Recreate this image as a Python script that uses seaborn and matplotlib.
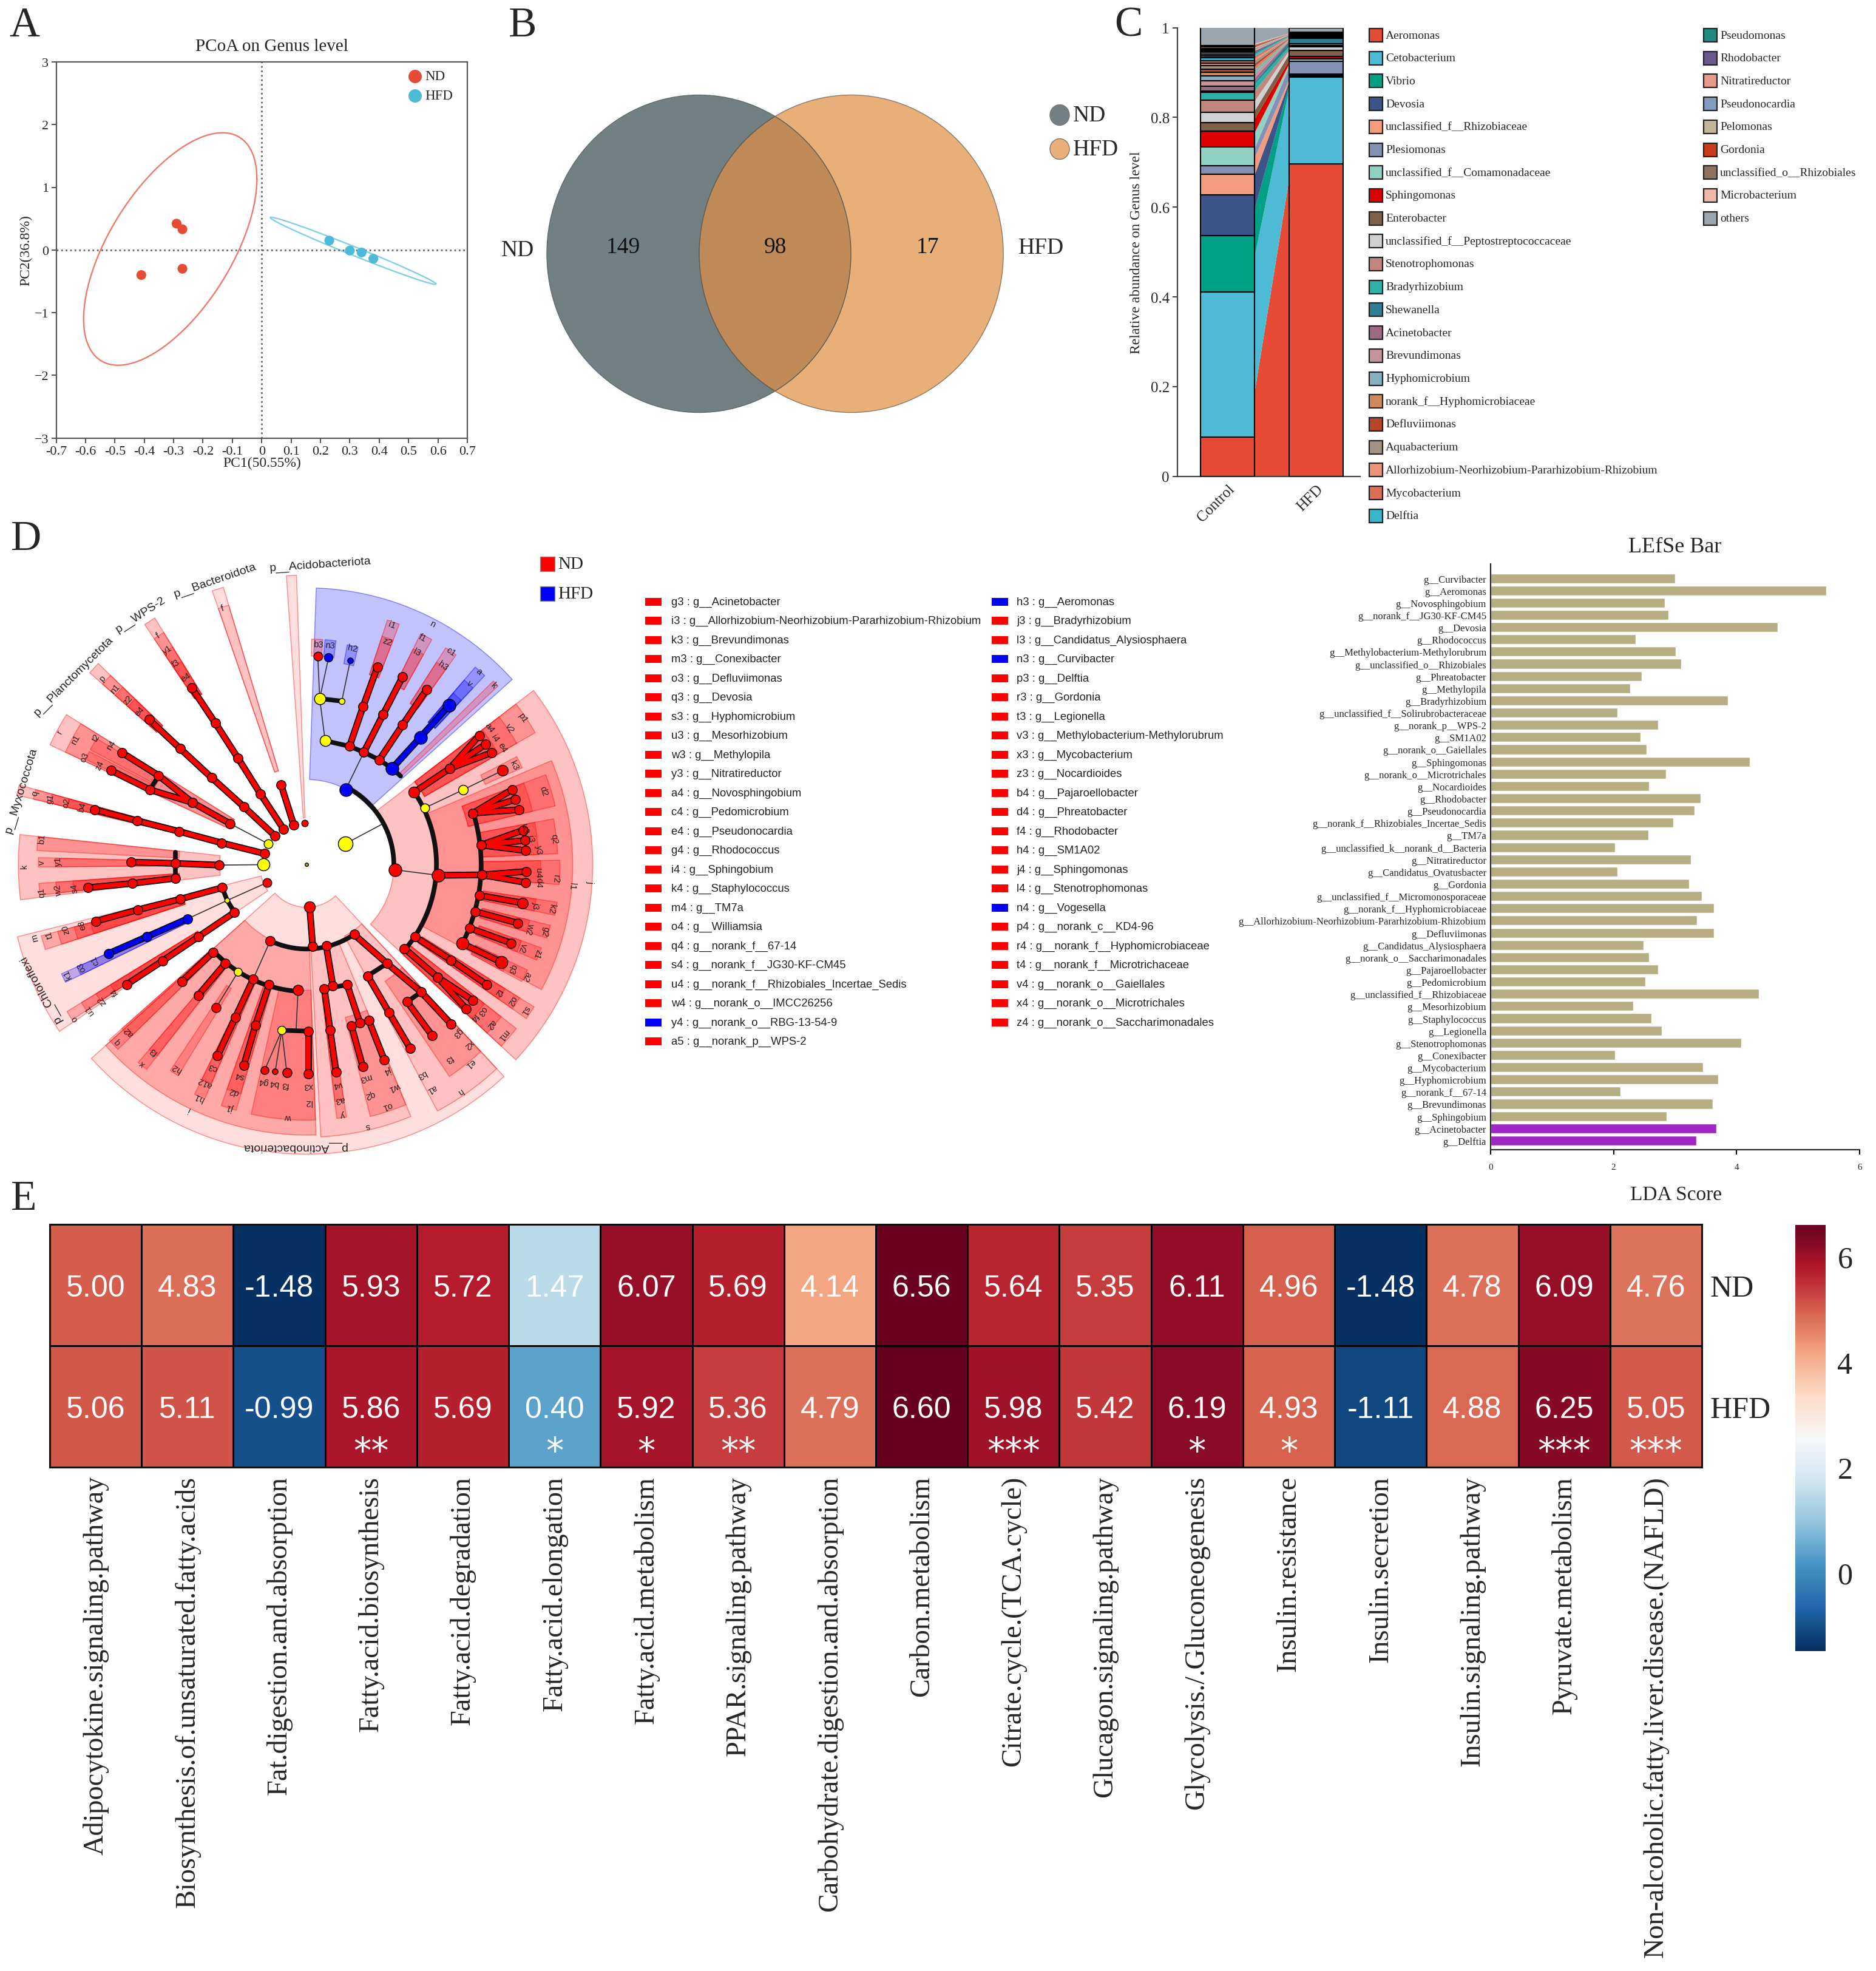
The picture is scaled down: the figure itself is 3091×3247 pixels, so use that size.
import numpy as np
import pandas as pd
import matplotlib
matplotlib.use("Agg")
import matplotlib.pyplot as plt
from matplotlib.patches import Ellipse, Rectangle, Polygon
import seaborn as sns

sns.set_style("ticks")
plt.rcParams['font.family'] = ['Liberation Serif', 'DejaVu Serif']

W, H = 3091, 3248
RED = '#E64B35'
CYAN = '#4DBBD5'

# ---------- panel A
pc1_ticks = [-0.7, -0.6, -0.5, -0.4, -0.3, -0.2, -0.1, 0, 0.1, 0.2, 0.3, 0.4, 0.5, 0.6, 0.7]
pc2_ticks = [-3, -2, -1, 0, 1, 2, 3]
pcoa_group = ['ND', 'ND', 'ND', 'ND', 'HFD', 'HFD', 'HFD', 'HFD']
pcoa_x = [-0.29, -0.27, -0.41, -0.27, 0.23, 0.30, 0.34, 0.38]
pcoa_y = [0.42, 0.33, -0.40, -0.30, 0.15, -0.01, -0.04, -0.14]
# centre x, centre y, x half range, y half range, phase in degrees
ell_nd = [-0.3115, 0.015, 0.295, 1.855, 53]
ell_hfd = [0.311, -0.013, 0.282, 0.535, 172]

# ---------- panel B
venn_counts = [149, 98, 17]
venn_names = ['ND', 'HFD']

# ---------- panel C
genus = ['Aeromonas', 'Cetobacterium', 'Vibrio', 'Devosia', 'unclassified_f__Rhizobiaceae', 'Plesiomonas',
         'unclassified_f__Comamonadaceae', 'Sphingomonas', 'Enterobacter', 'unclassified_f__Peptostreptococcaceae',
         'Stenotrophomonas', 'Bradyrhizobium', 'Shewanella', 'Acinetobacter', 'Brevundimonas', 'Hyphomicrobium',
         'norank_f__Hyphomicrobiaceae', 'Defluviimonas', 'Aquabacterium',
         'Allorhizobium-Neorhizobium-Pararhizobium-Rhizobium', 'Mycobacterium', 'Delftia', 'Pseudomonas',
         'Rhodobacter', 'Nitratireductor', 'Pseudonocardia', 'Pelomonas', 'Gordonia', 'unclassified_o__Rhizobiales',
         'Microbacterium', 'others']
genus_colors = ['#E64B35', '#4DBBD5', '#00A087', '#3C5488', '#F39B7F', '#8491B4', '#91D1C2', '#DC0000', '#7E6148',
                '#D0D0D0', '#C0877F', '#2CB0A8', '#2E7F94', '#9A6B85', '#C4939C', '#86AFBF', '#D0885F', '#B5462A',
                '#A09383', '#EE927A', '#D96F57', '#39B5CC', '#1E8A80', '#6A5A8C', '#E79A8A', '#829DBB', '#C3B79A',
                '#CC3A1C', '#8C7460', '#EDB8AE', '#9AA5AD']
control_abund = [0.087, 0.324, 0.126, 0.091, 0.045, 0.020, 0.041, 0.035, 0.019, 0.024, 0.027, 0.017, 0.003, 0.011,
                 0.012, 0.010, 0.009, 0.007, 0.008, 0.005, 0.006, 0.006, 0.004, 0.004, 0.004, 0.003, 0.003, 0.003,
                 0.003, 0.003, 0.041]
hfd_abund = [0.696, 0.194, 0.002, 0.002, 0.003, 0.028, 0.005, 0.006, 0.014, 0.007, 0.003, 0.004, 0.012, 0.001,
             0.001, 0.001, 0.001, 0.001, 0.001, 0.001, 0.001, 0.001, 0.001, 0.0005, 0.0005, 0.0005, 0.0005, 0.0005,
             0.0005, 0.0005, 0.0105]

# ---------- panel D legend
clade_left = [('g3 : g__Acinetobacter', 'r'), ('i3 : g__Allorhizobium-Neorhizobium-Pararhizobium-Rhizobium', 'r'),
              ('k3 : g__Brevundimonas', 'r'), ('m3 : g__Conexibacter', 'r'), ('o3 : g__Defluviimonas', 'r'),
              ('q3 : g__Devosia', 'r'), ('s3 : g__Hyphomicrobium', 'r'), ('u3 : g__Mesorhizobium', 'r'),
              ('w3 : g__Methylopila', 'r'), ('y3 : g__Nitratireductor', 'r'), ('a4 : g__Novosphingobium', 'r'),
              ('c4 : g__Pedomicrobium', 'r'), ('e4 : g__Pseudonocardia', 'r'), ('g4 : g__Rhodococcus', 'r'),
              ('i4 : g__Sphingobium', 'r'), ('k4 : g__Staphylococcus', 'r'), ('m4 : g__TM7a', 'r'),
              ('o4 : g__Williamsia', 'r'), ('q4 : g__norank_f__67-14', 'r'), ('s4 : g__norank_f__JG30-KF-CM45', 'r'),
              ('u4 : g__norank_f__Rhizobiales_Incertae_Sedis', 'r'), ('w4 : g__norank_o__IMCC26256', 'r'),
              ('y4 : g__norank_o__RBG-13-54-9', 'b'), ('a5 : g__norank_p__WPS-2', 'r')]
clade_right = [('h3 : g__Aeromonas', 'b'), ('j3 : g__Bradyrhizobium', 'r'), ('l3 : g__Candidatus_Alysiosphaera', 'r'),
               ('n3 : g__Curvibacter', 'b'), ('p3 : g__Delftia', 'r'), ('r3 : g__Gordonia', 'r'),
               ('t3 : g__Legionella', 'r'), ('v3 : g__Methylobacterium-Methylorubrum', 'r'),
               ('x3 : g__Mycobacterium', 'r'), ('z3 : g__Nocardioides', 'r'), ('b4 : g__Pajaroellobacter', 'r'),
               ('d4 : g__Phreatobacter', 'r'), ('f4 : g__Rhodobacter', 'r'), ('h4 : g__SM1A02', 'r'),
               ('j4 : g__Sphingomonas', 'r'), ('l4 : g__Stenotrophomonas', 'r'), ('n4 : g__Vogesella', 'b'),
               ('p4 : g__norank_c__KD4-96', 'r'), ('r4 : g__norank_f__Hyphomicrobiaceae', 'r'),
               ('t4 : g__norank_f__Microtrichaceae', 'r'), ('v4 : g__norank_o__Gaiellales', 'r'),
               ('x4 : g__norank_o__Microtrichales', 'r'), ('z4 : g__norank_o__Saccharimonadales', 'r')]

# ---------- panel D cladogram, tree units
# angle from, angle to, radius from, outer radii (one shade per radius), colour (capital = stronger)
sectors = [
    (42, 88, 200, (650,), 'B'), (68.9, 71.7, 470, (605, 565), 'R'), (60.9, 63.7, 470, (605, 565), 'R'),
    (54.5, 57.3, 450, (605, 565), 'R'), (46.7, 49.5, 440, (610, 570, 530), 'B'),
    (43, 44.5, 305, (615,), 'R'), (85.9, 88.7, 490, (530,), 'R'), (82.5, 85.3, 490, (530,), 'B'),
    (76.7, 79.5, 480, (525,), 'B'),
    (-43, 37.5, 205, (672,), 'R'), (-28, 23, 310, (625,), 'R'), (30, 37.5, 320, (620, 570, 520), 'R'),
    (24.2, 27.2, 460, (555,), 'R'), (13.3, 20.6, 390, (600, 545), 'R'), (2.5, 10.5, 410, (590, 545), 'R'),
    (-4.5, 1, 415, (595, 550), 'R'), (-11.5, -8.5, 420, (595, 545), 'R'), (-17, -14, 425, (590, 540), 'R'),
    (-22.5, -19.5, 430, (585, 535), 'R'), (-28.5, -25.5, 440, (575, 525), 'R'), (-35, -32, 320, (630, 590, 550), 'R'),
    (-43, -38, 310, (625, 580, 530), 'R'),
    (92, 94, 110, (680,), 'r'), (106.7, 109, 230, (680, 636), 'r'), (121.6, 124, 470, (680, 640, 600, 560), 'R'),
    (136, 138.5, 470, (680, 640, 600, 560), 'R'), (148, 155, 200, (665, 625), 'R'), (149, 152, 400, (575,), 'R'),
    (152.5, 154.5, 400, (575,), 'R'), (164.5, 166.5, 300, (700, 660, 620, 580), 'R'), (174, 187, 204, (677,), 'R'),
    (174, 177, 300, (634,), 'R'), (178.5, 180.5, 300, (630, 590), 'R'), (184, 186.5, 300, (630, 590, 550), 'R'),
    (194, 214, 110, (700,), 'r'), (195, 198, 300, (645, 605, 565, 525), 'R'), (204, 206, 300, (630, 590), 'B'),
    (211.5, 213.5, 300, (660, 620, 580, 540), 'R'),
    (222, 313, 100, (680,), 'r'), (222, 272, 195, (635,), 'R'), (257.5, 272, 295, (600,), 'R'),
    (229.6, 232, 300, (610, 570), 'R'), (236.5, 238.7, 340, (580,), 'R'), (221.6, 224.4, 300, (620, 580), 'R'),
    (250.5, 254, 300, (600, 560), 'R'), (244, 246.5, 300, (600, 560), 'R'), (276.8, 279, 290, (600, 560), 'R'),
    (273, 292.5, 200, (640,), 'r'), (284.2, 292.5, 370, (610,), 'R'), (298, 313, 190, (655,), 'r'), (304, 313, 330, (600,), 'R'),
]
# radius, angle from, angle to
black_arcs = [(205, -3, 62), (305, -40, 34), (410, -27, 17), (198, -115, -56), (298, -137, -94)]
black_links = [[(840, 515), (903, 528), (940, 542), (980, 560), (1013, 580), (1035, 598)], [(826, 416), (883, 422)],
               [(410, 597), (387, 630)], [(453, 777), (453, 838)], [(574, 860), (587, 890), (606, 918)],
               [(728, 1195), (797, 1197)], [(838, 1098), (897, 1088)], [(908, 1185), (953, 1172)],
               [(950, 1067), (1000, 1038)], [(1052, 1128), (1088, 1105)]]
thin_links = [[(892, 757), (985, 712)], [(1020, 818), (1132, 831)], [(1097, 673), (1197, 630), (1298, 585)],
              [(893, 630), (940, 542)], [(840, 515), (826, 416), (821, 317)], [(826, 416), (849, 319)],
              [(883, 422), (905, 326)], [(693, 757), (595, 710)], [(680, 806), (566, 807)], [(690, 848), (587, 890), (485, 933)],
              [(698, 985), (654, 1075)], [(615, 1058), (558, 1142)], [(770, 1100), (765, 1195)],
              [(728, 1195), (684, 1288)], [(728, 1195), (711, 1292)], [(728, 1195), (741, 1295)]]
red_chains = [[(1132, 831), (1245, 830)], [(1245, 830), (1360, 822)], [(1245, 830), (1358, 848)],
              [(1243, 760), (1352, 725)], [(1243, 760), (1356, 749)], [(1243, 760), (1358, 773)],
              [(1222, 685), (1323, 630)], [(1222, 685), (1331, 653)], [(1222, 685), (1340, 677)],
              [(1238, 878), (1350, 896)], [(1228, 916), (1337, 943)], [(1213, 955), (1320, 990)], [(1192, 990), (1295, 1035)],
              [(1070, 636), (1162, 580), (1238, 503)], [(1162, 580), (1255, 523)], [(1162, 580), (1270, 543)],
              [(1072, 975), (1165, 1030), (1258, 1088)], [(1045, 1003), (1130, 1070), (1222, 1125)], [(1130, 1070), (1205, 1145)],
              [(903, 528), (938, 435), (975, 342)], [(940, 542), (990, 453), (1040, 365)], [(980, 560), (1040, 478), (1102, 395)],
              [(759, 713), (726, 618)], [(733, 723), (673, 640), (615, 556), (556, 473), (495, 390)],
              [(710, 738), (630, 670), (547, 602), (465, 533), (385, 465)], [(595, 710), (497, 660), (410, 597), (315, 543)],
              [(497, 660), (387, 630), (287, 585)], [(683, 780), (573, 755), (463, 728), (355, 703), (245, 677)],
              [(566, 807), (453, 803), (339, 800)], [(453, 838), (342, 850), (228, 860)],
              [(574, 860), (465, 887), (356, 912), (247, 939)], [(606, 918), (513, 975), (420, 1032), (328, 1087)],
              [(800, 905), (808, 998)], [(550, 1012), (470, 1080)], [(582, 1038), (512, 1113)],
              [(654, 1075), (608, 1165), (562, 1255)], [(695, 1088), (660, 1183), (630, 1277)], [(797, 1197), (797, 1297)],
              [(843, 997), (860, 1090)], [(838, 1098), (853, 1195), (868, 1293)], [(897, 1088), (930, 1178)], [(908, 1185), (937, 1280)],
              [(953, 1172), (993, 1265)], [(915, 970), (1000, 1038), (1088, 1105), (1165, 1180)], [(950, 1067), (1005, 1153), (1060, 1238)],
              [(1052, 1128), (1117, 1208)]]
blue_chains = [[(1013, 580), (1086, 507), (1160, 432)], [(485, 933), (380, 975), (280, 1015)]]
# x, y, point size, colour
extra_nodes = [(1020, 818, 230, 'red'), (1132, 831, 230, 'red'), (893, 630, 230, 'blue'), (892, 757, 300, 'yellow'),
               (680, 806, 210, 'yellow'), (693, 757, 110, 'yellow'), (1097, 673, 110, 'yellow'), (1197, 630, 130, 'yellow'),
               (840, 515, 170, 'yellow'), (826, 416, 180, 'yellow'), (883, 422, 50, 'yellow'), (587, 890, 35, 'yellow'),
               (615, 1058, 90, 'yellow'), (728, 1195, 100, 'yellow'), (792, 806, 16, '#B8A800'), (787, 708, 60, 'red'),
               (690, 848, 110, 'red'), (698, 985, 130, 'red'), (800, 905, 170, 'red'), (770, 1100, 150, 'red'),
               (1070, 636, 170, 'red'), (1298, 585, 160, 'red'), (1195, 990, 210, 'red'), (1295, 1035, 210, 'red'),
               (1350, 896, 160, 'red'), (821, 317, 110, 'red'), (849, 319, 100, 'blue'), (905, 326, 45, 'blue'),
               (684, 1288, 90, 'red'), (711, 1292, 45, 'red'), (741, 1295, 120, 'red'), (558, 1142, 120, 'red'),
               (1013, 580, 230, 'blue'), (1086, 507, 230, 'blue'), (1160, 432, 230, 'blue')]
tip_labels = ['n', 'i1', 'z2', 'f1', 'l3', 'c1', 'h3', 'a', 'v', 'k', 'b3', 'n3', 'h2', 'p1', 'v2', 'a4', 'i4', 'e4', 'k3',
              'd2', 'u3', 'i3', 'y3', 'q2', 'u4', 'd4', 'r2', 'l1', 'j', 'j3', 'k2', 'w2', 'g2', 'v2', 'z1', 'q3', 'a2',
              's1', 'o2', 't2', 'm1', 'a2', 'o3', 'f4', 'e1', 'h', 'x2', 'g3', 'f3', 'a1', 'b3', 's', 'o1', 'w1', 'j4',
              'y', 'a3', 'v4', 'q2', 'm3', 'i', 'w', 'l2', 'x3', 'f3', 'b4', 'g4', 'j1', 'd2', 's4', 'h1', 'a12', 'c3',
              'h2', 'x', 'f3', 'a2', 'q', 'r', 'n1', 't2', 'n4', 'o3', 'z4', 'q', 'g1', 'o2', 'b4', 'b1', 'k', 'v', 'y1',
              'q1', 'w2', 's4', 'm', 't1', 'z0', 'e8', 'k1', 'o3', 'c1', 'o', 'u1', 'z2', 'f4', 'f', 'y1', 'f3', 'e4',
              'p', 'n1', 'z2', 'e4', 'f']
tip_x = [1117, 1012, 1000, 1092, 1077, 1165, 1145, 1238, 1212, 1275, 822, 853, 910, 1350, 1317, 1265, 1278, 1298, 1328,
         1405, 1355, 1370, 1392, 1432, 1390, 1392, 1435, 1478, 1525, 1383, 1425, 1368, 1408, 1350, 1388, 1323, 1360,
         1358, 1322, 1288, 1300, 1268, 1245, 1225, 1215, 1188, 1212, 1183, 1160, 1115, 1090, 950, 1000, 1020, 1003,
         885, 878, 873, 955, 945, 488, 745, 797, 797, 738, 708, 680, 595, 605, 620, 515, 530, 550,
         457, 367, 397, 333, 303, 155, 195, 248, 287, 218, 258, 90, 130, 172, 212, 108, 62, 108, 150,
         108, 150, 193, 90, 127, 170, 213, 175, 210, 245, 193, 230, 263, 297, 408, 432, 455, 480,
         265, 297, 330, 360, 575]
tip_y = [240, 243, 282, 272, 307, 305, 338, 351, 380, 385, 288, 290, 298, 460, 485, 483, 508, 530, 572,
         632, 720, 745, 770, 745, 825, 848, 838, 855, 845, 900, 908, 955, 962, 1000, 1015, 1050, 1068,
         1147, 1125, 1105, 1205, 1180, 1148, 1163, 1272, 1338, 1228, 1200, 1262, 1332, 1298, 1420, 1372, 1328, 1288,
         1392, 1357, 1322, 1345, 1305, 1380, 1398, 1363, 1325, 1322, 1318, 1315, 1375, 1338, 1300, 1352, 1316, 1280,
         1283, 1272, 1243, 1197, 1222, 493, 512, 507, 525, 553, 572, 638, 650, 660, 670, 745, 808, 800, 797,
         870, 866, 860, 977, 969, 957, 947, 1063, 1045, 1030, 1167, 1147, 1125, 1103, 268, 300, 332, 365,
         368, 393, 418, 445, 203]
phylum_names = ['p__Acidobacteriota', 'p__Bacteroidota', 'p__WPS-2', 'p__Planctomycetota', 'p__Myxococcota',
                'p__Chloroflexi', 'p__Actinobacteriota']
phylum_x = [828, 555, 363, 190, 55, 105, 760]
phylum_y = [101, 138, 218, 362, 630, 1097, 1468]
phylum_rot = [4, 19, 33, 45, 73, 119, 180]

# ---------- panel D bars
lda_names = ['g__Curvibacter', 'g__Aeromonas', 'g__Novosphingobium', 'g__norank_f__JG30-KF-CM45', 'g__Devosia',
             'g__Rhodococcus', 'g__Methylobacterium-Methylorubrum', 'g__unclassified_o__Rhizobiales', 'g__Phreatobacter',
             'g__Methylopila', 'g__Bradyrhizobium', 'g__unclassified_f__Solirubrobacteraceae', 'g__norank_p__WPS-2',
             'g__SM1A02', 'g__norank_o__Gaiellales', 'g__Sphingomonas', 'g__norank_o__Microtrichales', 'g__Nocardioides',
             'g__Rhodobacter', 'g__Pseudonocardia', 'g__norank_f__Rhizobiales_Incertae_Sedis', 'g__TM7a',
             'g__unclassified_k__norank_d__Bacteria', 'g__Nitratireductor', 'g__Candidatus_Ovatusbacter', 'g__Gordonia',
             'g__unclassified_f__Micromonosporaceae', 'g__norank_f__Hyphomicrobiaceae',
             'g__Allorhizobium-Neorhizobium-Pararhizobium-Rhizobium', 'g__Defluviimonas', 'g__Candidatus_Alysiosphaera',
             'g__norank_o__Saccharimonadales', 'g__Pajaroellobacter', 'g__Pedomicrobium', 'g__unclassified_f__Rhizobiaceae',
             'g__Mesorhizobium', 'g__Staphylococcus', 'g__Legionella', 'g__Stenotrophomonas', 'g__Conexibacter',
             'g__Mycobacterium', 'g__Hyphomicrobium', 'g__norank_f__67-14', 'g__Brevundimonas', 'g__Sphingobium',
             'g__Acinetobacter', 'g__Delftia']
lda_scores = [3.00, 5.46, 2.83, 2.89, 4.67, 2.36, 3.01, 3.10, 2.46, 2.27, 3.86, 2.06, 2.72, 2.44, 2.54, 4.21, 2.85, 2.58,
              3.41, 3.32, 2.97, 2.57, 2.02, 3.26, 2.06, 3.23, 3.43, 3.63, 3.36, 3.63, 2.49, 2.58, 2.72, 2.52, 4.36, 2.32,
              2.62, 2.78, 4.08, 2.02, 3.45, 3.70, 2.11, 3.61, 2.86, 3.67, 3.35]
lda_group = ['ND'] * 45 + ['HFD'] * 2

# ---------- panel E
pathways = ['Adipocytokine.signaling.pathway', 'Biosynthesis.of.unsaturated.fatty.acids', 'Fat.digestion.and.absorption',
            'Fatty.acid.biosynthesis', 'Fatty.acid.degradation', 'Fatty.acid.elongation', 'Fatty.acid.metabolism',
            'PPAR.signaling.pathway', 'Carbohydrate.digestion.and.absorption', 'Carbon.metabolism',
            'Citrate.cycle.(TCA.cycle)', 'Glucagon.signaling.pathway', 'Glycolysis./.Gluconeogenesis', 'Insulin.resistance',
            'Insulin.secretion', 'Insulin.signaling.pathway', 'Pyruvate.metabolism',
            'Non-alcoholic.fatty.liver.disease.(NAFLD)']
nd_values = [5.00, 4.83, -1.48, 5.93, 5.72, 1.47, 6.07, 5.69, 4.14, 6.56, 5.64, 5.35, 6.11, 4.96, -1.48, 4.78, 6.09, 4.76]
hfd_values = [5.06, 5.11, -0.99, 5.86, 5.69, 0.40, 5.92, 5.36, 4.79, 6.60, 5.98, 5.42, 6.19, 4.93, -1.11, 4.88, 6.25, 5.05]
hfd_stars = ['', '', '', '**', '', '*', '*', '**', '', '', '***', '', '*', '*', '', '', '***', '***']

fig = plt.figure(figsize=(W / 100, H / 100), dpi=100, facecolor='white')


def px_axes(x0, y0, x1, y1):
    return fig.add_axes([x0 / W, 1 - y1 / H, (x1 - x0) / W, (y1 - y0) / H])


# overlay in pixel units for panel letters and hand made legends
ov = px_axes(0, 0, W, H)
ov.set_xlim(0, W)
ov.set_ylim(H, 0)
ov.axis('off')
ov.set_zorder(20)
ov.patch.set_alpha(0)

for letter, lx, ly in [('A', 15, 60), ('B', 838, 60), ('C', 1836, 59), ('D', 18, 906), ('E', 18, 1993)]:
    ov.text(lx, ly, letter, fontsize=50, ha='left', va='baseline')

# A: PCoA
ax = px_axes(92.5, 103, 770, 722.5)
pcoa = pd.DataFrame({'PC1': pcoa_x, 'PC2': pcoa_y, 'group': pcoa_group})
sns.scatterplot(data=pcoa, x='PC1', y='PC2', hue='group', palette={'ND': RED, 'HFD': CYAN}, s=135,
                edgecolor='none', legend=False, ax=ax, zorder=3)
t = np.radians(np.linspace(0, 360, 300))
for e, c in [(ell_nd, '#EE7A6A'), (ell_hfd, '#7FD0E4')]:
    ax.plot(e[0] + e[2] * np.cos(t), e[1] + e[3] * np.cos(t - np.radians(e[4])), color=c, lw=1.7)
ax.axhline(0, color='#666666', ls=':', lw=2)
ax.axvline(0, color='#666666', ls=':', lw=2)
ax.set_xlim(-0.7, 0.7)
ax.set_ylim(-3, 3)
ax.set_xticks(pc1_ticks)
ax.set_xticklabels([f'{v:g}' for v in pc1_ticks])
ax.set_yticks(pc2_ticks)
ax.tick_params(labelsize=16, length=6, width=1.5, color='#555555', pad=3)
ax.set_xlabel('PC1(50.55%)', fontsize=17, labelpad=-1)
ax.set_ylabel('PC2(36.8%)', fontsize=17, labelpad=2)
ax.set_title('PCoA on Genus level', fontsize=21, pad=14, x=0.524)
for s in ax.spines.values():
    s.set_color('#555555')
    s.set_linewidth(1.6)
for name, c, yy in [('ND', RED, 127), ('HFD', CYAN, 159)]:
    ov.add_patch(Ellipse((684, yy), 22, 22, color=c, lw=0))
    ov.text(700, yy, name, fontsize=16.5, va='center')

# B: Venn
left = Ellipse((1151.5, 419), 501, 523, facecolor='#728084', edgecolor='#5E6A6C', lw=1)
right = Ellipse((1402.6, 419), 501, 523, facecolor='#E8AF78', edgecolor='#8A7A66', lw=1)
ov.add_patch(left)
ov.add_patch(right)
overlap = Ellipse((1402.6, 419), 501, 523, facecolor='#BF8A58', edgecolor='#5E5A50', lw=1)
ov.add_patch(overlap)
overlap.set_clip_path(left)
ov.add_patch(Ellipse((1151.5, 419), 501, 523, facecolor='none', edgecolor='#5E5A50', lw=1)).set_clip_path(right)
for val, vx in zip(venn_counts, [1027, 1277, 1529]):
    ov.text(vx, 408, str(val), fontsize=27, ha='center', va='center', color='#111111')
ov.text(853, 413, venn_names[0], fontsize=27, ha='center', va='center')
ov.text(1715, 409, venn_names[1], fontsize=27, ha='center', va='center')
for name, c, yy in [(venn_names[0], '#728084', 190.5), (venn_names[1], '#E8AF78', 246.5)]:
    ov.add_patch(Ellipse((1746, yy), 32, 34, facecolor=c, edgecolor='#777777', lw=1))
    ov.text(1768, yy, name, fontsize=27, va='center')

# C: stacked community bars
ax = px_axes(1940, 46.6, 2241, 785.7)
ctrl = np.cumsum([0] + control_abund)
hfd = np.cumsum([0] + hfd_abund)
for i, c in enumerate(genus_colors):
    ax.fill_between([0.22, 0.72], [ctrl[i], hfd[i]], [ctrl[i + 1], hfd[i + 1]], color=c, lw=0, zorder=1)
    ax.bar([0, 1], [control_abund[i], hfd_abund[i]], bottom=[ctrl[i], hfd[i]], width=0.61, color=c,
           edgecolor='black', linewidth=1.5, zorder=3)
ax.set_xlim((1940 - 2022.5) / 146, (2241 - 2022.5) / 146)
ax.set_ylim(0, 1)
ax.set_yticks([0, 0.2, 0.4, 0.6, 0.8, 1])
ax.set_yticklabels(['0', '0.2', '0.4', '0.6', '0.8', '1'])
ax.set_xticks([0, 1])
ax.set_xticklabels(['Control', 'HFD'], rotation=45, ha='right', rotation_mode='anchor')
ax.tick_params(axis='y', labelsize=18, length=6, width=1.5, color='#444444')
ax.tick_params(axis='x', labelsize=18, length=0, pad=7)
ax.set_ylabel('Relative abundance on Genus level', fontsize=17, labelpad=9)
sns.despine(ax=ax)
ax.spines['left'].set_color('#444444')
ax.spines['left'].set_linewidth(1.6)
ax.spines['bottom'].set_color('#444444')
ax.spines['bottom'].set_linewidth(1.6)
for i, (name, c) in enumerate(zip(genus, genus_colors)):
    col = 0 if i < 22 else 1
    row = i if i < 22 else i - 22
    yy = 59 + 37.7 * row
    sx = 2256 if col == 0 else 2807
    ov.add_patch(Rectangle((sx, yy - 11), 22, 22, facecolor=c, edgecolor='#222222', lw=1.6))
    ov.text(sx + 27, yy, name, fontsize=14, va='center')

# D: cladogram, axis runs in tree units and is wider than tall
cl = px_axes(0, 860, 1000, 1960)
cl.set_xlim(0, 1568)
cl.set_ylim(1568, 0)
cl.axis('off')
CX, CY, STRETCH = 792, 806, 1.1
shade = {'r': (1, 0, 0, 0.13), 'R': (1, 0, 0, 0.24), 'b': (0, 0, 1, 0.13), 'B': (0, 0, 1, 0.24)}
line = {'r': (1, 0, 0, 0.4), 'R': (1, 0, 0, 0.4), 'b': (0, 0, 1, 0.4), 'B': (0, 0, 1, 0.4)}


def polar(r, a):
    a = np.radians(a)
    return CX + STRETCH * r * np.cos(a), CY - r * np.sin(a)


for a1, a2, r1, radii, key in sectors:
    for r2 in radii:
        aa = np.linspace(a1, a2, 60)
        xo, yo = polar(r2, aa)
        xi, yi = polar(r1, aa[::-1])
        pts = np.column_stack([np.r_[xo, xi], np.r_[yo, yi]])
        cl.add_patch(Polygon(pts, closed=True, facecolor=shade[key], edgecolor=line[key], lw=1.1, zorder=1))
for r, a1, a2 in black_arcs:
    xa, ya = polar(r, np.linspace(a1, a2, 80))
    cl.plot(xa, ya, color='#111111', lw=5.5, zorder=3, solid_capstyle='round')
for link in black_links:
    cl.plot(*zip(*link), color='#111111', lw=5.5, zorder=3)
for link in thin_links:
    cl.plot(*zip(*link), color='#333333', lw=1.2, zorder=2)
for chains, c in [(red_chains, 'red'), (blue_chains, 'blue')]:
    for chain in chains:
        cl.plot(*zip(*chain), color='black', lw=8, zorder=4, solid_capstyle='butt')
        cl.plot(*zip(*chain), color=c, lw=5.6, zorder=5, solid_capstyle='butt')
        cl.scatter(*zip(*chain), s=125, color=c, edgecolor='black', linewidth=1, zorder=6)
for nx, ny, ns, nc in extra_nodes:
    cl.scatter([nx], [ny], s=ns, color=nc, edgecolor='black', linewidth=1, zorder=7)
for lab, lx, ly in zip(tip_labels, tip_x, tip_y):
    ang = np.degrees(np.arctan2(CY - ly, (lx - CX) / STRETCH))
    cl.text(lx, ly, lab, fontsize=10.5, family='Liberation Sans', rotation=ang - 90, rotation_mode='anchor',
            ha='center', va='center', color='#222222', zorder=8)
for lab, lx, ly, rot in zip(phylum_names, phylum_x, phylum_y, phylum_rot):
    cl.text(lx, ly, lab, fontsize=14, family='Liberation Sans', rotation=rot, rotation_mode='anchor',
            ha='center', va='center', color='#222222', zorder=8)
for name, c, yy in [('ND', 'red', 100), ('HFD', 'blue', 170)]:
    cl.add_patch(Rectangle((1395, yy - 17), 38, 34, facecolor=c, edgecolor='#888888', lw=1))
    cl.text(1441, yy, name, fontsize=21, va='center')

# D: feature list
for rows, sx, tx in [(clade_left, 1063, 1106), (clade_right, 1633.5, 1675)]:
    for i, (lab, key) in enumerate(rows):
        yy = 992 + 31.5 * i
        ov.add_patch(Rectangle((sx, yy - 6.5), 27, 13, facecolor={'r': '#FF0000', 'b': '#0000FF'}[key], lw=0))
        ov.text(tx, yy, lab, fontsize=13.3, family='Liberation Sans', va='center', color='#222222')

# D: LDA bars
ax = px_axes(2456, 930, 3064, 1895)
lda = pd.DataFrame({'name': lda_names, 'score': lda_scores, 'group': lda_group})
sns.barplot(data=lda, y='name', x='score', hue='group', palette={'ND': '#BFB27A', 'HFD': '#AE0BE0'}, dodge=False,
            legend=False, width=0.8, ax=ax)
ax.set_xlim(0, 6)
ax.set_ylim(46.75, -1.17)
ax.set_xticks([0, 2, 4, 6])
ax.tick_params(axis='y', length=0, labelsize=12, pad=5)
ax.tick_params(axis='x', length=6, width=1.5, labelsize=11, pad=10, color='black')
ax.set_xlabel('')
ax.set_ylabel('')
sns.despine(ax=ax)
ax.spines['left'].set_linewidth(1.6)
ax.spines['bottom'].set_linewidth(1.6)
ov.text(2760, 901, 'LEfSe Bar', fontsize=26, ha='center', va='center')
ov.text(2762, 1969, 'LDA Score', fontsize=24, ha='center', va='center')

# E: heat map
ax = px_axes(82, 2018, 2804, 2418)
cax = px_axes(2958, 2019, 3008, 2720.6)
heat = pd.DataFrame([nd_values, hfd_values], index=['ND', 'HFD'], columns=pathways)
sns.heatmap(heat, ax=ax, cbar_ax=cax, cmap='RdBu_r', vmin=-1.48, vmax=6.60, annot=True, fmt='.2f',
            annot_kws={'fontsize': 36, 'color': 'white', 'family': 'Liberation Sans', 'va': 'center_baseline'},
            linewidths=2, linecolor='black')
for j, star in enumerate(hfd_stars):
    ax.text(j + 0.5, 1.88, star, color='white', fontsize=42, family='DejaVu Sans', ha='center', va='center')
ax.yaxis.tick_right()
ax.tick_params(axis='y', length=0, labelsize=36, rotation=0, pad=10)
ax.tick_params(axis='x', length=0, labelsize=33.3, rotation=90, pad=10)
ax.set_xlabel('')
ax.set_ylabel('')
for s in ax.spines.values():
    s.set_visible(True)
    s.set_linewidth(2.2)
    s.set_color('#111111')
cax.set_yticks([0, 2, 4, 6])
cax.tick_params(length=0, labelsize=36, pad=14)

fig.savefig('out.png', dpi=100, facecolor='white')
